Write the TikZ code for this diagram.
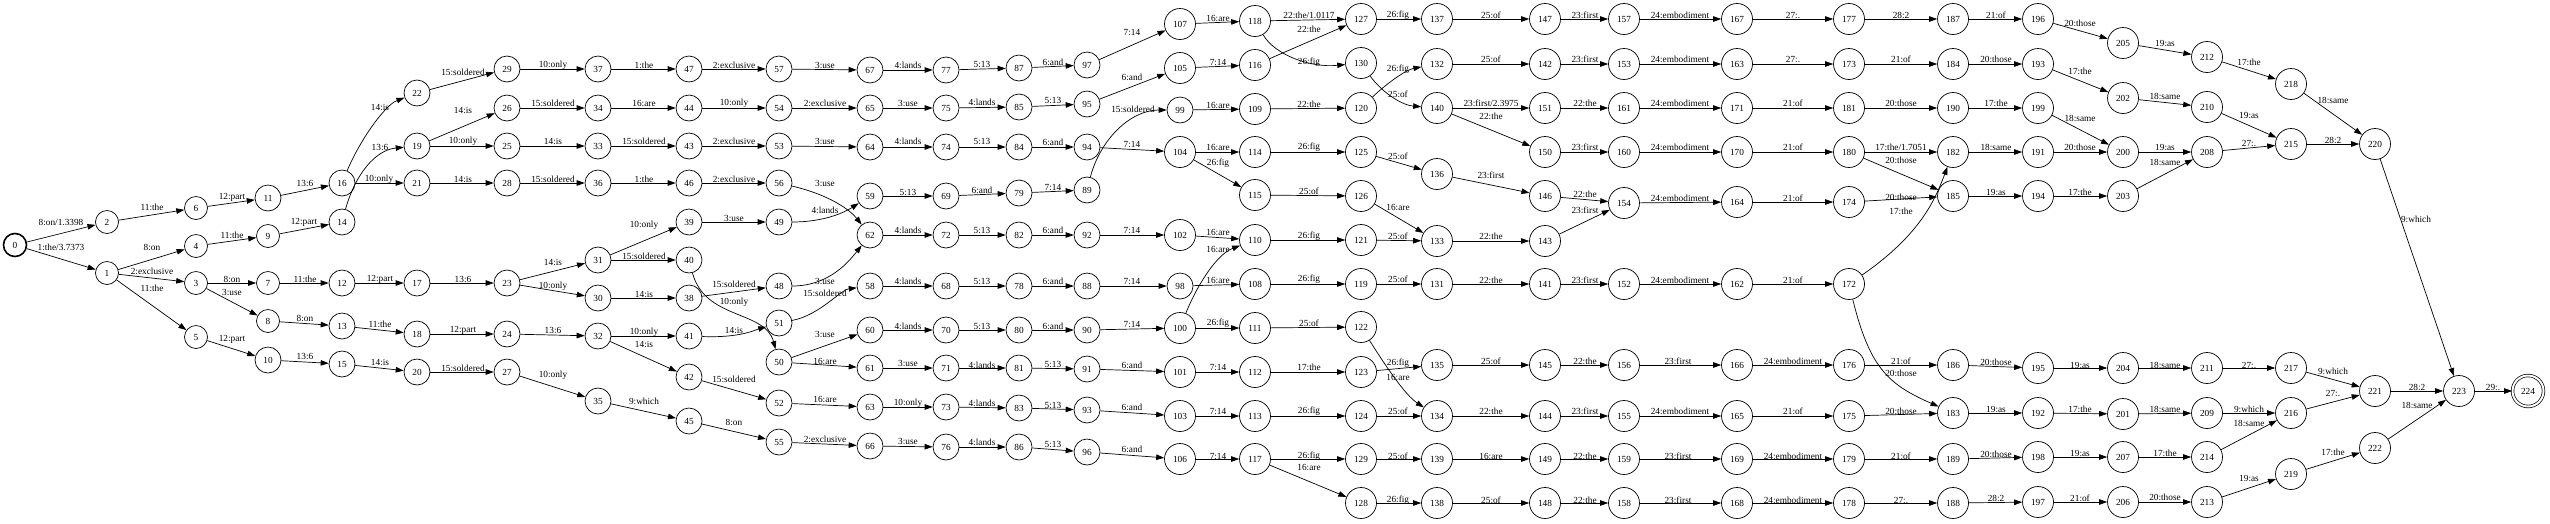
\documentclass[tikz,border=0pt]{standalone}
\usepackage{fontspec}
\setmainfont{Liberation Serif}
\usetikzlibrary{arrows.meta}
\tikzset{
  st/.style={circle,draw,line width=0.7pt,inner sep=0pt,font=\fontsize{9.3}{11}\selectfont},
  s1/.style={st,minimum size=23pt},
  s2/.style={st,minimum size=26pt},
  s3/.style={st,minimum size=31pt},
  tr/.style={-{Triangle[length=8pt,width=5.5pt]},line width=0.7pt},
  lab/.style={inner sep=0pt,font=\fontsize{9.3}{11}\selectfont}
}
\begin{document}
\begin{tikzpicture}[x=1pt,y=-1pt]
\useasboundingbox (0,0) rectangle (2550,523);
%%%%% states %%%%%
\node[s1,line width=1.6pt] (n0) at (15,245) {0};
\foreach \n/\x/\y in {1/107/273,2/107/222,3/196/283,4/196/246,5/196/337,6/196/208,7/268/283,8/268/321,9/268/236}
  \node[s1] (n\n) at (\x,\y) {\n};
\foreach \n/\x/\y in {10/268/360,11/268/198,12/342/283,13/342/326,14/342/222,15/342/364,16/342/183,
  17/417/283,18/417/334,19/417/146,20/417/372,21/417/183,22/417/93,
  23/507/283,24/507/334,25/507/146,26/507/108,27/507/372,28/507/183,29/507/69,
  30/598/298,31/598/260,32/598/336,33/598/146,34/598/108,35/598/401,36/598/183,37/598/69,
  38/689/298,39/689/222,40/689/260,41/689/336,42/689/377,43/689/146,44/689/108,45/689/421,46/689/183,47/689/69,
  48/779/286,49/779/222,50/779/362,51/779/323,52/779/403,53/779/146,54/779/108,55/779/442,56/779/183,57/779/69,
  58/870/286,59/870/196,60/870/330,61/870/368,62/870/235,63/870/407,64/870/147,65/870/108,66/870/446,67/870/70,
  68/946/286,69/946/196,70/946/330,71/946/368,72/946/235,73/946/407,74/946/147,75/946/108,76/946/447,77/946/70,
  78/1019/286,79/1019/193,80/1019/330,81/1019/368,82/1019/235,83/1019/408,84/1019/147,85/1019/107,86/1019/447,87/1019/68,
  88/1087/286,89/1087/190,90/1087/330,91/1087/369,92/1087/235,93/1087/410,94/1087/147,95/1087/104,96/1087/452,97/1087/65,
  98/1180/286,99/1180/110}
  \node[s2] (n\n) at (\x,\y) {\n};
\foreach \n/\x/\y in {100/1180/328,101/1180/372,102/1180/235,103/1180/416,104/1180/152,105/1180/68,106/1180/459,107/1180/24,
  108/1255/284,109/1255/109,110/1255/240,111/1255/328,112/1255/372,113/1255/416,114/1255/152,115/1255/195,116/1255/65,117/1255/459,118/1255/21,
  119/1361/284,120/1361/108,121/1361/240,122/1361/327,123/1361/372,124/1361/416,125/1361/152,126/1361/196,127/1361/19,128/1361/503,129/1361/459,130/1361/63,
  131/1437/284,132/1437/64,133/1437/241,134/1437/416,135/1437/365,136/1437/174,137/1437/19,138/1437/503,139/1437/459,140/1437/108,
  141/1545/284,142/1545/64,143/1545/241,144/1545/416,145/1545/365,146/1545/196,147/1545/19,148/1545/503,149/1545/459,150/1545/152,151/1545/108,
  152/1624/284,153/1624/64,154/1624/203,155/1624/416,156/1624/365,157/1624/19,158/1624/503,159/1624/459,160/1624/152,161/1624/108,
  162/1737/284,163/1737/64,164/1737/202,165/1737/416,166/1737/365,167/1737/19,168/1737/503,169/1737/459,170/1737/152,171/1737/108,
  172/1849/284,173/1849/64,174/1849/202,175/1849/416,176/1849/365,177/1849/19,178/1849/503,179/1849/459,180/1849/152,181/1849/108,
  182/1953/152,183/1953/413,184/1953/64,185/1953/196,186/1953/365,187/1953/19,188/1953/503,189/1953/459,190/1953/108,
  191/2038/152,192/2038/413,193/2038/64,194/2038/196,195/2038/368,196/2038/19,197/2038/502,198/2038/457,199/2038/108,
  200/2123/152,201/2123/414,202/2123/98,203/2123/196,204/2123/368,205/2123/43,206/2123/502,207/2123/457,
  208/2207/152,209/2207/413,210/2207/107,211/2207/368,212/2207/57,213/2207/502,214/2207/457,
  215/2291/144,216/2291/413,217/2291/368,218/2291/84,219/2291/474,
  220/2375/144,221/2375/391,222/2375/448,223/2459/391}
  \node[s3] (n\n) at (\x,\y) {\n};
\node[s3,double,double distance=2pt] (n224) at (2528,391) {224};
%%%%% arcs %%%%%
\draw[tr] (n0) -- (n2) node[lab] at (61,222) {8:on/1.3398};
\draw[tr] (n0) -- (n1) node[lab] at (61,247) {1:the/3.7373};
\draw[tr] (n118) -- (n127) node[lab] at (1309,15) {22:the/1.0117};
\draw[tr] (n140) -- (n151) node[lab] at (1491,103) {23:first/2.3975};
\draw[tr] (n180) -- (n182) node[lab] at (1901,147) {17:the/1.7051};
\foreach \a/\b/\x/\y/\l in {2/6/152/207/11:the,6/11/232/197/12:part,11/16/305/183/13:6,16/21/379/179/10:only,
  1/4/152/247/8:on,4/9/232/235/11:the,9/14/304/222/12:part,1/3/152/271/2:exclusive,1/5/152/288/11:the,
  3/7/232/279/8:on,3/8/232/292/3:use,7/12/305/279/11:the,12/17/380/279/12:part,8/13/305/318/8:on,13/18/380/324/11:the,
  5/10/232/339/12:part,10/15/305/356/13:6,15/20/380/362/14:is,
  22/29/463/72/15:soldered,29/37/553/65/10:only,37/47/644/65/1:the,47/57/734/65/2:exclusive,57/67/825/65/3:use,
  19/26/463/110/14:is,26/34/553/103/15:soldered,34/44/644/103/16:are,44/54/734/103/10:only,54/65/825/103/2:exclusive,
  19/25/463/141/10:only,25/33/553/141/14:is,33/43/644/141/15:soldered,43/53/734/141/2:exclusive,53/64/825/141/3:use,
  21/28/463/179/14:is,28/36/553/179/15:soldered,36/46/644/179/1:the,46/56/734/179/2:exclusive,
  39/49/734/218/3:use,31/39/644/225/10:only,31/40/644/256/15:soldered,
  17/23/463/279/13:6,23/31/553/262/14:is,23/30/553/286/10:only,30/38/644/294/14:is,38/48/734/284/15:soldered,
  50/60/825/334/3:use,50/61/825/361/16:are,
  18/24/463/330/12:part,24/32/553/330/13:6,32/41/644/332/10:only,32/42/644/344/14:is,42/52/734/379/15:soldered,52/63/825/399/16:are,
  20/27/463/368/15:soldered,27/35/553/375/10:only,35/45/644/401/9:which,45/55/734/422/8:on,55/66/825/439/2:exclusive,
  67/77/908/65/4:lands,77/87/982/64/5:13,87/97/1053/62/6:and,97/107/1132/32/7:14,107/118/1218/18/16:are,
  65/75/908/103/3:use,75/85/982/102/4:lands,85/95/1053/100/5:13,95/105/1132/77/6:and,105/116/1218/62/7:14,
  99/109/1218/105/16:are,
  64/74/908/141/4:lands,74/84/982/141/5:13,84/94/1053/142/6:and,94/104/1132/144/7:14,104/114/1218/147/16:are,104/115/1218/163/26:fig,
  59/69/908/192/5:13,69/79/982/190/6:and,79/89/1053/187/7:14,
  62/72/908/230/4:lands,72/82/982/230/5:13,82/92/1053/230/6:and,92/102/1132/230/7:14,102/110/1218/232/16:are,
  58/68/908/281/4:lands,68/78/982/281/5:13,78/88/1053/281/6:and,88/98/1132/281/7:14,98/108/1218/280/16:are,
  60/70/908/326/4:lands,70/80/982/326/5:13,80/90/1053/326/6:and,90/100/1132/324/7:14,100/111/1218/323/26:fig,
  61/71/908/363/3:use,71/81/982/365/4:lands,81/91/1053/364/5:13,91/101/1132/365/6:and,101/112/1218/367/7:14,
  63/73/908/403/10:only,73/83/982/403/4:lands,83/93/1053/405/5:13,93/103/1132/407/6:and,103/113/1218/411/7:14,
  66/76/908/441/3:use,76/86/982/442/4:lands,86/96/1053/444/5:13,96/106/1132/449/6:and,106/117/1218/456/7:14,
  116/127/1309/29/22:the,127/137/1398/15/26:fig,137/147/1491/15/25:of,147/157/1585/15/23:first,157/167/1680/15/24:embodiment,
  132/142/1491/59/25:of,142/153/1585/59/23:first,153/163/1680/59/24:embodiment,
  109/120/1309/104/22:the,140/150/1491/116/22:the,151/161/1585/103/22:the,161/171/1680/103/24:embodiment,
  150/160/1585/147/23:first,160/170/1680/147/24:embodiment,
  114/125/1309/147/26:fig,125/136/1398/156/25:of,136/146/1491/175/23:first,146/154/1585/194/22:the,143/154/1585/210/23:first,
  154/164/1680/198/24:embodiment,
  115/126/1309/191/25:of,110/121/1309/236/26:fig,121/133/1398/236/25:of,126/133/1398/207/16:are,133/143/1491/236/22:the,
  108/119/1309/279/26:fig,119/131/1398/279/25:of,131/141/1491/280/22:the,141/152/1585/280/23:first,152/162/1680/280/24:embodiment,
  111/122/1309/323/25:of,112/123/1309/367/17:the,123/135/1398/363/26:fig,135/145/1491/361/25:of,145/156/1585/361/22:the,
  156/166/1678/361/23:first,
  113/124/1309/411/26:fig,124/134/1398/411/25:of,134/144/1491/411/22:the,144/155/1585/411/23:first,155/165/1680/411/24:embodiment,
  117/129/1309/456/26:fig,117/128/1309/467/16:are,129/139/1398/456/25:of,139/149/1491/456/16:are,149/159/1585/456/22:the,
  159/169/1678/456/23:first,
  128/138/1398/500/26:fig,138/148/1491/500/25:of,148/158/1585/500/22:the,158/168/1678/500/23:first,
  167/177/1793/15/27:.,177/187/1901/15/28:2,187/196/1996/15/21:of,196/205/2080/23/20:those,
  163/173/1793/59/27:.,173/184/1901/59/21:of,184/193/1996/59/20:those,193/202/2080/71/17:the,
  171/181/1793/103/21:of,181/190/1901/103/20:those,190/199/1996/103/17:the,199/200/2080/118/18:same,
  170/180/1793/147/21:of,180/185/1901/160/20:those,182/191/1996/147/18:same,191/200/2080/147/20:those,
  164/174/1793/198/21:of,174/185/1901/197/20:those,185/194/1996/192/19:as,194/203/2080/192/17:the,
  162/172/1793/280/21:of,166/176/1793/361/24:embodiment,176/186/1901/361/21:of,186/195/1996/362/20:those,195/204/2080/365/19:as,
  165/175/1793/411/21:of,175/183/1901/411/20:those,183/192/1996/409/19:as,192/201/2080/409/17:the,
  169/179/1793/456/24:embodiment,179/189/1901/456/21:of,189/198/1996/454/20:those,198/207/2080/453/19:as,
  168/178/1793/500/24:embodiment,178/188/1901/500/27:.,188/197/1996/498/28:2,197/206/2080/498/21:of,
  205/212/2165/43/19:as,212/218/2249/62/17:the,218/220/2333/100/18:same,
  202/210/2165/96/18:same,210/215/2249/115/19:as,200/208/2165/147/19:as,203/208/2165/162/18:same,
  208/215/2249/143/27:.,215/220/2333/140/28:2,220/223/2416/219/9:which,
  204/211/2165/365/18:same,211/217/2249/365/27:.,217/221/2333/371/9:which,216/221/2333/393/27:.,
  221/223/2417/387/28:2,222/223/2417/405/18:same,223/224/2493/387/29:.,
  201/209/2165/409/18:same,209/216/2249/409/9:which,214/216/2249/423/18:same,207/214/2165/453/17:the,
  206/213/2165/497/20:those,213/219/2249/478/19:as,219/222/2333/452/17:the}
  \draw[tr] (n\a) -- (n\b) node[lab] at (\x,\y) {\l};
% bent arcs
\draw[tr] (n16) .. controls (360,140) and (385,105) .. (n22) node[lab] at (380,107) {14:is};
\draw[tr] (n14) .. controls (355,175) and (375,150) .. (n19) node[lab] at (380,147) {13:6};
\draw[tr] (n56) .. controls (830,195) and (850,210) .. (n62) node[lab] at (825,183) {3:use};
\draw[tr] (n49) .. controls (825,222) and (845,212) .. (n59) node[lab] at (825,210) {4:lands};
\draw[tr] (n40) .. controls (705,320) and (765,310) .. (n50) node[lab] at (734,302) {10:only};
\draw[tr] (n41) .. controls (740,338) and (755,330) .. (n51) node[lab] at (734,330) {14:is};
\draw[tr] (n48) .. controls (830,286) and (850,260) .. (n62) node[lab] at (825,281) {3:use};
\draw[tr] (n51) .. controls (820,315) and (840,290) .. (n58) node[lab] at (825,293) {15:soldered};
\draw[tr] (n89) .. controls (1100,140) and (1130,110) .. (n99) node[lab] at (1133,109) {15:soldered};
\draw[tr] (n100) .. controls (1195,290) and (1215,255) .. (n110) node[lab] at (1218,249) {16:are};
\draw[tr] (n118) .. controls (1275,55) and (1310,68) .. (n130) node[lab] at (1309,62) {26:fig};
\draw[tr] (n130) .. controls (1380,90) and (1400,105) .. (n140) node[lab] at (1398,94) {25:of};
\draw[tr] (n120) .. controls (1385,85) and (1405,70) .. (n132) node[lab] at (1398,69) {26:fig};
\draw[tr] (n122) .. controls (1385,365) and (1405,395) .. (n134) node[lab] at (1398,377) {16:are};
\draw[tr] (n172) .. controls (1920,235) and (1935,200) .. (n182) node[lab] at (1901,211) {17:the};
\draw[tr] (n172) .. controls (1870,370) and (1890,385) .. (n183) node[lab] at (1901,373) {20:those};
\end{tikzpicture}
\end{document}
